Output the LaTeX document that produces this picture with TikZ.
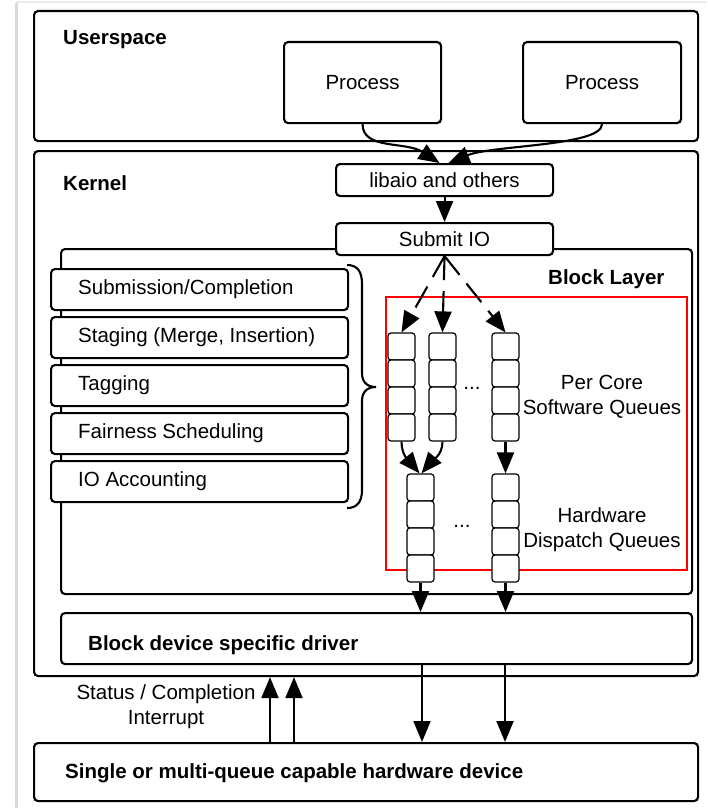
\documentclass[tikz,border=0pt]{standalone}
\usepackage{fontspec}
\setmainfont{Liberation Sans}
\usetikzlibrary{arrows.meta}
\begin{document}
\begin{tikzpicture}[x=1pt,y=-1pt,
  box/.style={draw, line width=2.1pt, rounded corners=4pt, fill=white, anchor=north west, inner sep=0pt},
  txt/.style={font=\fontsize{20.5}{25}\selectfont, inner sep=0pt},
  btxt/.style={font=\fontsize{20.5}{25}\selectfont\bfseries, inner sep=0pt},
  cell/.style={draw, line width=1.2pt, rounded corners=3pt, fill=white, minimum width=27pt, minimum height=27pt, inner sep=0pt},
  arr/.style={line width=2.1pt, -{Triangle[length=21pt,width=17pt]}},
  dasharr/.style={arr, dash pattern=on 24pt off 11pt}
]
\useasboundingbox (0,0) rectangle (707,808);
\fill[white] (0,0) rectangle (707,808);
\draw[black!15, line width=3pt] (16,3) -- (16,808);
\draw[black!8, line width=2pt] (16,2) -- (707,2);

% Userspace
\node[box, minimum width=664pt, minimum height=130pt] (user) at (33,10) {};
\node[btxt, anchor=west] (userlbl) at (63,40) {Userspace};
\node[box, minimum width=157pt, minimum height=81pt] (p1) at (283,41) {};
\node[txt] (p1t) at (p1.center) {Process};
\node[box, minimum width=158pt, minimum height=81pt] (p2) at (522,41) {};
\node[txt] (p2t) at (p2.center) {Process};

% Kernel
\node[box, minimum width=664pt, minimum height=525pt] (kern) at (33,150) {};
\node[btxt, anchor=west] (kernlbl) at (63,183) {Kernel};

% Block layer
\node[box, minimum width=631pt, minimum height=345pt] (blk) at (60,248) {};
\node[btxt, anchor=west] (blklbl) at (548,279) {Block Layer};

\node[box, minimum width=217pt, minimum height=32pt] (lib) at (335,163) {};
\node[txt] (libt) at (lib.center) {libaio and others};
\node[box, minimum width=217pt, minimum height=32pt] (sub) at (335,222) {};
\node[txt] (subt) at (sub.center) {Submit IO};

% left stack
\foreach \n/\y/\t in {a/268/{Submission/Completion}, b/316/{Staging (Merge, Insertion)}, c/364/{Tagging}, d/412/{Fairness Scheduling}, e/460/{IO Accounting}}{
  \node[box, minimum width=297pt, minimum height=41pt] (st\n) at (50,\y) {};
  \node[txt, anchor=west] (st\n t) at ([xshift=28pt]st\n.west) {\t};
}
% brace
\draw[line width=2.1pt] (347,265) .. controls (357,265) and (362,271) .. (362,284) -- (362,373)
  .. controls (362,382) and (367,387) .. (376,387) .. controls (367,387) and (362,392) .. (362,401)
  -- (362,490) .. controls (362,502) and (357,508) .. (347,508);

% red frame
\draw[red, line width=1.4pt] (386,297) rectangle (687,570);

% software queues
\foreach \c/\x in {1/401.5, 2/442.5, 3/505.5}{
  \foreach \r/\y in {1/346.5, 2/373.5, 3/400.5, 4/427.5}{
    \node[cell] (s\c-\r) at (\x,\y) {};
  }
}
% hardware queues
\foreach \c/\x in {1/420.5, 2/505.5}{
  \foreach \r/\y in {1/487.5, 2/514.5, 3/541.5, 4/568.5}{
    \node[cell] (h\c-\r) at (\x,\y) {};
  }
}
\node[txt] (dots1) at (472,388) {...};
\node[txt] (dots2) at (462,526) {...};
\node[txt, align=center] (swl) at (602,397) {Per Core\\Software Queues};
\node[txt, align=center] (hwl) at (602,530) {Hardware\\Dispatch Queues};

% driver
\node[box, minimum width=631pt, minimum height=51pt] (drv) at (60,612) {};
\node[btxt, anchor=west] (drvt) at (88,645) {Block device specific driver};

% device
\node[box, minimum width=664pt, minimum height=58pt] (dev) at (33,742) {};
\node[btxt, anchor=west] (devt) at (65,773) {Single or multi-queue capable hardware device};

% arrows
\draw[arr] (p1.south) .. controls +(0,26) and +(-34,-22) .. ([xshift=-5pt]lib.north);
\draw[arr] (p2.south) .. controls +(0,22) and +(44,-18) .. ([xshift=4pt]lib.north);
\draw[arr] (lib.south) -- (sub.north);
\draw[dasharr] (sub.south) -- (s1-1.north);
\draw[dasharr] (sub.south) -- (s2-1.north);
\draw[dasharr] (sub.south) -- (s3-1.north);
\draw[arr] (s1-4.south) .. controls +(0,14) and +(-10,-12) .. ([xshift=-1pt]h1-1.north);
\draw[arr] (s2-4.south) .. controls +(0,14) and +(10,-12) .. ([xshift=1pt]h1-1.north);
\draw[arr] (s3-4.south) -- (h2-1.north);
\draw[arr] (h1-4.south) -- (h1-4.south |- drv.north);
\draw[arr] (h2-4.south) -- (h2-4.south |- drv.north);
\coordinate (d1) at (422,0);
\coordinate (d2) at (505,0);
\draw[arr] (drv.south -| d1) -- (dev.north -| d1);
\draw[arr] (drv.south -| d2) -- (dev.north -| d2);
\coordinate (u1) at (270,0);
\coordinate (u2) at (294,0);
\draw[arr] (dev.north -| u1) -- (kern.south -| u1);
\draw[arr] (dev.north -| u2) -- (kern.south -| u2);
\node[txt, align=center] (stat) at (166,707) {Status / Completion\\Interrupt};
\end{tikzpicture}
\end{document}
